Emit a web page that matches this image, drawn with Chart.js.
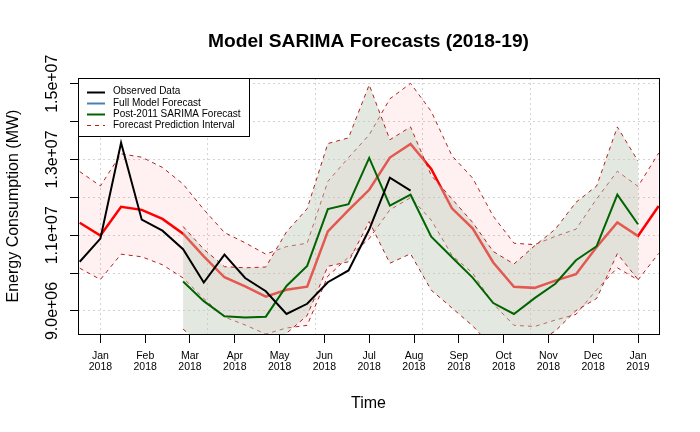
<!DOCTYPE html>
<html><head><meta charset="utf-8">
<script src="https://cdn.jsdelivr.net/npm/chart.js@4"></script>
<style>html,body{margin:0;padding:0;background:#fff}canvas{display:block}</style>
</head><body>
<canvas id="c" width="700" height="432"></canvas>
<script>
// Fortnightly periods (26 per year), index 0 = start of Jan 2018
const startIdxFull = -1;      // full model / observed start
const startIdxPost = 4;       // post-2011 model start
const periodsPerYear = 26;
const baseYear = 2018;

// values in millions of MW
const observed = [10.30,10.91,13.44,11.41,11.12,10.63,9.75,10.49,9.87,9.52,8.92,9.19,9.76,10.07,11.15,12.52,12.18];
const fullForecast = [11.33,10.99,11.75,11.67,11.43,11.04,10.44,9.89,9.65,9.38,9.56,9.64,11.10,11.66,12.20,13.05,13.41,12.75,11.71,11.18,10.28,9.64,9.61,9.80,9.97,10.69,11.34,10.98,11.77];
const fullUpper = [12.68,12.30,13.15,13.06,12.79,12.35,11.68,11.07,10.80,10.50,10.70,10.79,12.42,13.05,13.65,14.60,15.01,14.27,13.10,12.51,11.50,10.79,10.75,10.97,11.16,11.96,12.69,12.29,13.17];
const fullLower = [10.13,9.83,10.50,10.43,10.22,9.87,9.33,8.84,8.63,8.39,8.55,8.62,9.92,10.42,10.91,11.67,11.99,11.40,10.47,10.00,9.19,8.62,8.59,8.76,8.91,9.56,10.14,9.82,10.52];
const postForecast = [9.78,9.26,8.86,8.83,8.85,9.66,10.19,11.69,11.82,13.04,11.78,12.07,10.96,10.42,9.88,9.21,8.92,9.34,9.72,10.34,10.71,12.07,11.29];
const postUpper = [11.23,10.63,10.17,10.14,10.16,11.09,11.70,13.42,13.57,14.97,13.52,13.86,12.58,11.96,11.34,10.57,10.24,10.72,11.16,11.87,12.30,13.86,12.96];
const postLower = [8.52,8.07,7.72,7.69,7.71,8.41,8.88,10.18,10.30,11.36,10.26,10.51,9.55,9.08,8.61,8.02,7.77,8.14,8.47,9.01,9.33,10.51,9.83];

const monthLabels = ['Jan','Feb','Mar','Apr','May','Jun','Jul','Aug','Sep','Oct','Nov','Dec','Jan'];
const yearLabels = ['2018','2018','2018','2018','2018','2018','2018','2018','2018','2018','2018','2018','2019'];
const gridYears = [2018.0,2018.2,2018.4,2018.6,2018.8,2019.0];
const yTickValues = [9.0e6,1.0e7,1.1e7,1.2e7,1.3e7,1.4e7,1.5e7];
const yTickLabels = ['9.0e+06','','1.1e+07','','1.3e+07','','1.5e+07'];

const xMin = baseYear - 1.083/periodsPerYear;
const xMax = baseYear + 27.015/periodsPerYear;
const yMin = 8.392e6, yMax = 15.15e6;

const toPts = (vals, start) => vals.map((v,i)=>({x: baseYear + (start+i)/periodsPerYear, y: v*1e6}));

const FONT = "'Liberation Sans', Arial, Helvetica, sans-serif";
Chart.defaults.font.family = FONT;
Chart.defaults.color = '#000';

const PI_COL = '#B22222';

const extras = {
  id: 'extras',
  afterDraw(chart) {
    const ctx = chart.ctx, ca = chart.chartArea, y = chart.scales.y;
    ctx.save();
    // box
    ctx.strokeStyle = '#000'; ctx.lineWidth = 1; ctx.setLineDash([]);
    ctx.strokeRect(ca.left+0.5, ca.top+0.5, ca.right-ca.left, ca.bottom-ca.top);
    // y tick labels (rotated, R style)
    ctx.fillStyle = '#000';
    ctx.font = '16px ' + FONT;
    ctx.textAlign = 'center'; ctx.textBaseline = 'alphabetic';
    yTickValues.forEach((v,i)=>{
      if (!yTickLabels[i]) return;
      const py = y.getPixelForValue(v);
      ctx.save(); ctx.translate(57, py); ctx.rotate(-Math.PI/2);
      ctx.fillText(yTickLabels[i], 0, 0); ctx.restore();
    });
    // legend
    const lx = 78.5, ly = 78.5, lw = 171, lh = 58;
    ctx.fillStyle = '#fff'; ctx.fillRect(lx, ly, lw, lh);
    ctx.strokeStyle = '#000'; ctx.lineWidth = 1; ctx.strokeRect(lx, ly, lw, lh);
    const items = [
      {t:'Observed Data', c:'#000', w:2, d:[]},
      {t:'Full Model Forecast', c:'#4682B4', w:2, d:[]},
      {t:'Post-2011 SARIMA Forecast', c:'#006400', w:2, d:[]},
      {t:'Forecast Prediction Interval', c:PI_COL, w:1, d:[4,4]}
    ];
    ctx.font = '10px ' + FONT; ctx.textAlign = 'left'; ctx.textBaseline = 'middle';
    items.forEach((it,i)=>{
      const ry = 91.7 + i*11.1;
      ctx.beginPath(); ctx.strokeStyle = it.c; ctx.lineWidth = it.w; ctx.setLineDash(it.d);
      ctx.moveTo(87, Math.round(ry)+0.5); ctx.lineTo(105, Math.round(ry)+0.5); ctx.stroke();
      ctx.setLineDash([]);
      ctx.fillStyle = '#000'; ctx.fillText(it.t, 113, ry);
    });
    ctx.restore();
  }
};

const lineBase = {pointRadius:0, pointHoverRadius:0, tension:0, clip:0, fill:false};

new Chart(document.getElementById('c'), {
  type: 'line',
  data: {
    datasets: [
      Object.assign({}, lineBase, {label:'Observed Data', data: toPts(observed, startIdxFull), borderColor:'#000', borderWidth:2}),
      Object.assign({}, lineBase, {label:'Post-2011 SARIMA Forecast', data: toPts(postForecast, startIdxPost), borderColor:'#006400', borderWidth:2}),
      Object.assign({}, lineBase, {label:'Post upper', data: toPts(postUpper, startIdxPost), borderColor:PI_COL, borderWidth:1, borderDash:[4,4]}),
      Object.assign({}, lineBase, {label:'Post lower', data: toPts(postLower, startIdxPost), borderColor:PI_COL, borderWidth:1, borderDash:[4,4], fill:'-1', backgroundColor:'rgba(190,205,185,0.43)'}),
      Object.assign({}, lineBase, {label:'Full Model Forecast', data: toPts(fullForecast, startIdxFull), borderColor:'#FF0000', borderWidth:2.5}),
      Object.assign({}, lineBase, {label:'Full upper', data: toPts(fullUpper, startIdxFull), borderColor:PI_COL, borderWidth:1, borderDash:[4,4]}),
      Object.assign({}, lineBase, {label:'Full lower', data: toPts(fullLower, startIdxFull), borderColor:PI_COL, borderWidth:1, borderDash:[4,4], fill:'-1', backgroundColor:'rgba(255,0,0,0.055)'})
    ]
  },
  options: {
    responsive: false, animation: false, devicePixelRatio: 1,
    layout: {padding: {left:0, right:41, top:0, bottom:0}},
    plugins: {
      legend: {display:false}, tooltip: {enabled:false},
      title: {display:true, fullSize:false, text:'Model SARIMA Forecasts (2018-19)', color:'#000',
        font:{size:19.2, weight:'bold', lineHeight:1.2}, padding:{top:30.5, bottom:24.5}}
    },
    scales: {
      x: {
        type:'linear', position:'bottom', min:xMin, max:xMax,
        afterBuildTicks: s => { s.ticks = monthLabels.map((m,i)=>({value: baseYear + i/12})); },
        ticks: {autoSkip:false, maxRotation:0, minRotation:0, padding:7.5, color:'#000',
          font:{size:10.5, lineHeight:1.05}, callback:(v,i)=>[monthLabels[i], yearLabels[i]]},
        grid: {drawOnChartArea:false, drawTicks:true, tickLength:9, color:'#000', tickColor:'#000'},
        border: {display:false},
        title: {display:true, text:'Time', color:'#000', font:{size:16, lineHeight:1.2}, padding:{top:0, bottom:18.5}},
        afterFit: s => { s.height = 98; }
      },
      xg: {
        type:'linear', position:'bottom', min:xMin, max:xMax,
        afterBuildTicks: s => { s.ticks = gridYears.map(v=>({value:v})); },
        ticks: {display:false},
        grid: {drawOnChartArea:true, drawTicks:false, color:'#D3D3D3', lineWidth:1},
        border: {display:false, dash:[2,3]},
        afterFit: s => { s.height = 0; }
      },
      y: {
        type:'linear', position:'left', min:yMin, max:yMax,
        afterBuildTicks: s => { s.ticks = yTickValues.map(v=>({value:v})); },
        ticks: {display:false},
        grid: {drawOnChartArea:true, drawTicks:true, tickLength:8, color:'#D3D3D3', tickColor:'#000', lineWidth:1},
        border: {display:false, dash:[2,3]},
        title: {display:true, text:'Energy Consumption (MW)', color:'#000', font:{size:16, lineHeight:1.2}, padding:{top:4, bottom:0}},
        afterFit: s => { s.width = 78; }
      }
    }
  },
  plugins: [extras]
});
</script>
</body></html>
